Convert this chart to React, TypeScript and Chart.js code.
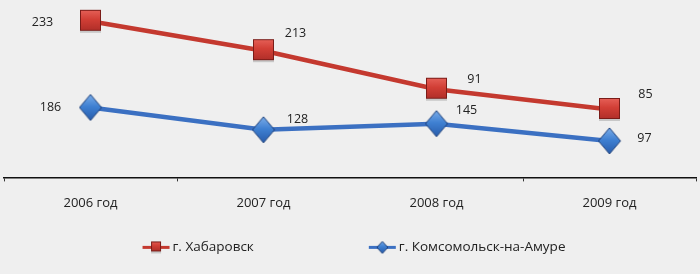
import { useEffect, useRef } from "react";
import { Chart, registerables } from "chart.js";

Chart.register(...registerables);

const categories = ["2006 год", "2007 год", "2008 год", "2009 год"];
const seriesNames = ["г. Хабаровск", "г. Комсомольск-на-Амуре"];
// plotted levels (vertical position)
const khabarovskLevel = [154, 125, 87, 67];
const komsomolskLevel = [69, 47, 53, 36];
// numbers printed next to the points
const khabarovskLabels = ["233", "213", "91", "85"];
const komsomolskLabels = ["186", "128", "145", "97"];

const labelOffsets = [
  [[-48, 1], [32, -17], [38, -10], [36, -15]],
  [[-40, 0], [34, -10], [30, -13], [35, -2]],
];

const FONT = "'Open Sans', 'DejaVu Sans', sans-serif";
const RED_LINE = "#c4392f";
const BLUE_LINE = "#3b70c2";

function makeSquare(size: number): HTMLCanvasElement {
  const c = document.createElement("canvas");
  c.width = size + 2;
  c.height = size + 4;
  const ctx = c.getContext("2d")!;
  ctx.fillStyle = "rgba(150,150,150,0.45)";
  ctx.fillRect(1, size + 1, size, 2);
  const g = ctx.createLinearGradient(0, 0, 0, size);
  g.addColorStop(0, "#e8645c");
  g.addColorStop(0.5, "#d23f36");
  g.addColorStop(1, "#b3302a");
  ctx.fillStyle = g;
  ctx.fillRect(1, 1, size, size);
  ctx.strokeStyle = "#7a1c18";
  ctx.lineWidth = 1;
  ctx.strokeRect(1.5, 1.5, size - 1, size - 1);
  return c;
}

function makeDiamond(w: number, h: number): HTMLCanvasElement {
  const c = document.createElement("canvas");
  c.width = w + 2;
  c.height = h + 2;
  const ctx = c.getContext("2d")!;
  const cx = (w + 2) / 2;
  const cy = (h + 2) / 2;
  ctx.beginPath();
  ctx.moveTo(cx, 1);
  ctx.lineTo(w + 1, cy);
  ctx.lineTo(cx, h + 1);
  ctx.lineTo(1, cy);
  ctx.closePath();
  const g = ctx.createLinearGradient(0, 0, 0, h);
  g.addColorStop(0, "#7fb0ea");
  g.addColorStop(0.5, "#3f80d2");
  g.addColorStop(1, "#2a5fae");
  ctx.fillStyle = g;
  ctx.fill();
  ctx.strokeStyle = "#1d3f78";
  ctx.lineWidth = 1;
  ctx.stroke();
  return c;
}

export default function App() {
  const ref = useRef<HTMLCanvasElement | null>(null);

  useEffect(() => {
    if (!ref.current) return;
    const square = makeSquare(21);
    const diamond = makeDiamond(22, 26);
    const smallSquare = makeSquare(10);
    const smallDiamond = makeDiamond(11, 12);
    const labelSets = [khabarovskLabels, komsomolskLabels];

    const labelPlugin = {
      id: "pointLabels",
      afterDatasetsDraw(chart: any) {
        const ctx = chart.ctx;
        ctx.save();
        ctx.font = `12.5px ${FONT}`;
        ctx.fillStyle = "#222";
        ctx.textAlign = "center";
        ctx.textBaseline = "middle";
        chart.data.datasets.forEach((_: any, di: number) => {
          const meta = chart.getDatasetMeta(di);
          meta.data.forEach((pt: any, i: number) => {
            const [dx, dy] = labelOffsets[di][i];
            ctx.fillText(labelSets[di][i], pt.x + dx, pt.y + dy);
          });
        });
        ctx.restore();
      },
    };

    const legendPlugin = {
      id: "customLegend",
      afterDraw(chart: any) {
        const ctx = chart.ctx;
        ctx.save();
        ctx.font = `13.5px ${FONT}`;
        ctx.fillStyle = "#222";
        ctx.textBaseline = "middle";
        const symW = 27;
        const gapText = 3;
        const gapItems = 115;
        const w1 = ctx.measureText(seriesNames[0]).width;
        const w2 = ctx.measureText(seriesNames[1]).width;
        const total = symW + gapText + w1 + gapItems + symW + gapText + w2;
        let x = chart.width / 2 - total / 2 + 4;
        const y = chart.chartArea.bottom + 70;
        const items = [
          { color: RED_LINE, img: smallSquare, text: seriesNames[0], w: w1 },
          { color: BLUE_LINE, img: smallDiamond, text: seriesNames[1], w: w2 },
        ];
        items.forEach((it, idx) => {
          ctx.strokeStyle = it.color;
          ctx.lineWidth = 3;
          ctx.beginPath();
          ctx.moveTo(x, y);
          ctx.lineTo(x + symW, y);
          ctx.stroke();
          ctx.drawImage(it.img, x + symW / 2 - it.img.width / 2, y - it.img.height / 2);
          ctx.fillText(it.text, x + symW + gapText, y);
          x += symW + gapText + it.w + (idx === 0 ? gapItems : 0);
        });
        ctx.restore();
      },
    };

    const chart = new Chart(ref.current, {
      type: "line",
      data: {
        labels: categories,
        datasets: [
          {
            label: seriesNames[0],
            data: khabarovskLevel,
            borderColor: RED_LINE,
            borderWidth: 4.5,
            pointStyle: square as any,
            pointRadius: 11,
            tension: 0,
          },
          {
            label: seriesNames[1],
            data: komsomolskLevel,
            borderColor: BLUE_LINE,
            borderWidth: 4.5,
            pointStyle: diamond as any,
            pointRadius: 12,
            tension: 0,
          },
        ],
      },
      options: {
        responsive: false,
        animation: false,
        layout: { autoPadding: false, padding: { left: 4, right: 4, top: 0, bottom: 49 } },
        plugins: {
          legend: { display: false },
          tooltip: { enabled: false },
        },
        scales: {
          x: {
            offset: true,
            grid: {
              offset: true,
              drawOnChartArea: false,
              tickLength: 4,
              tickColor: (c: any) => (c.index === 2 ? "rgba(0,0,0,0)" : "#333"),
            },
            border: { display: true, color: "#111", width: 1.5 },
            ticks: {
              padding: 14,
              color: "#222",
              font: { family: FONT, size: 13 },
              maxRotation: 0,
            },
          },
          y: {
            display: false,
            min: 0,
            max: 175,
          },
        },
      },
      plugins: [labelPlugin, legendPlugin],
    });
    return () => chart.destroy();
  }, []);

  return (
    <div
      style={{
        position: "absolute",
        left: 0,
        top: 0,
        width: 700,
        height: 274,
        background: "#efefef",
      }}
    >
      <canvas ref={ref} width={700} height={274} />
    </div>
  );
}
